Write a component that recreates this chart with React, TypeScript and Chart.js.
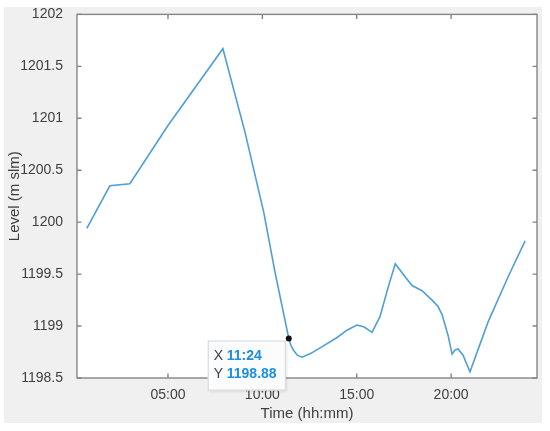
import React, { useEffect, useRef } from "react";
import { Chart, registerables } from "chart.js";

Chart.register(...registerables);

// Time in decimal hours, level in m slm
const hours = [
  0.7, 1.92, 2.98, 5.0, 7.91, 9.09, 10.08, 10.67, 11.4, 11.52, 11.68, 11.85,
  12.1, 12.6, 13.06, 13.96, 14.48, 15.01, 15.4, 15.81, 16.23, 16.66, 17.04,
  17.5, 17.93, 18.46, 18.99, 19.3, 19.52, 19.84, 20.05, 20.2, 20.37, 20.63,
  21.0, 21.96, 23.01, 23.92,
];
const levels = [
  1199.94, 1200.35, 1200.37, 1200.93, 1201.67, 1200.86, 1200.09, 1199.52,
  1198.88, 1198.81, 1198.76, 1198.72, 1198.7, 1198.74, 1198.79, 1198.89,
  1198.96, 1199.01, 1198.99, 1198.94, 1199.09, 1199.37, 1199.6, 1199.49,
  1199.39, 1199.34, 1199.25, 1199.19, 1199.11, 1198.91, 1198.73, 1198.77,
  1198.78, 1198.72, 1198.56, 1199.04, 1199.47, 1199.82,
];

const xTickValues = [5, 10, 15, 20];
const xTickLabels = ["05:00", "10:00", "15:00", "20:00"];
const yTickValues = [1198.5, 1199, 1199.5, 1200, 1200.5, 1201, 1201.5, 1202];
const yTickLabels = ["1198.5", "1199", "1199.5", "1200", "1200.5", "1201", "1201.5", "1202"];

const xMin = 0.18;
const xMax = 24.55;
const yMin = 1198.5;
const yMax = 1202;

const tipHour = 11.4;
const tipLevel = 1198.88;
const tipXText = "11:24";
const tipYText = "1198.88";

const FONT = "'Liberation Sans', Arial, Helvetica, sans-serif";
const TEXT = "#404040";
const AXIS = "#858585";

const decorPlugin = {
  id: "decor",
  beforeDraw(chart: any) {
    const { ctx, width, height, chartArea } = chart;
    ctx.save();
    ctx.fillStyle = "#ffffff";
    ctx.fillRect(0, 0, width, height);
    ctx.fillStyle = "#f0f0f0";
    ctx.fillRect(4, 7, 538, 416);
    ctx.fillStyle = "#ffffff";
    ctx.fillRect(
      chartArea.left,
      chartArea.top,
      chartArea.right - chartArea.left,
      chartArea.bottom - chartArea.top
    );
    ctx.restore();
  },
  afterDatasetsDraw(chart: any) {
    const { ctx, chartArea, scales } = chart;
    const { left, right, top, bottom } = chartArea;
    ctx.save();
    ctx.strokeStyle = AXIS;
    ctx.lineWidth = 1.4;
    ctx.strokeRect(left, top, right - left, bottom - top);
    const tl = 4.5;
    ctx.beginPath();
    for (const v of xTickValues) {
      const x = scales.x.getPixelForValue(v);
      ctx.moveTo(x, bottom);
      ctx.lineTo(x, bottom - tl);
      ctx.moveTo(x, top);
      ctx.lineTo(x, top + tl);
    }
    for (const v of yTickValues) {
      const y = scales.y.getPixelForValue(v);
      ctx.moveTo(left, y);
      ctx.lineTo(left + tl, y);
      ctx.moveTo(right, y);
      ctx.lineTo(right - tl, y);
    }
    ctx.stroke();
    ctx.restore();
  },
  afterDraw(chart: any) {
    const { ctx, scales } = chart;
    const px = scales.x.getPixelForValue(tipHour);
    const py = scales.y.getPixelForValue(tipLevel);
    ctx.save();
    // datatip box
    const bw = 78;
    const bh = 50;
    const bx = px - 81;
    const by = py + 2;
    ctx.shadowColor = "rgba(0,0,0,0.12)";
    ctx.shadowBlur = 3;
    ctx.shadowOffsetX = 1;
    ctx.shadowOffsetY = 1;
    ctx.fillStyle = "#fbfcfe";
    ctx.fillRect(bx, by, bw, bh);
    ctx.shadowColor = "transparent";
    ctx.strokeStyle = "#d6d6d6";
    ctx.lineWidth = 1;
    ctx.strokeRect(bx + 0.5, by + 0.5, bw - 1, bh - 1);
    ctx.textBaseline = "middle";
    ctx.textAlign = "left";
    ctx.font = `14px ${FONT}`;
    ctx.fillStyle = TEXT;
    ctx.fillText("X", bx + 6, by + 16);
    ctx.fillText("Y", bx + 6, by + 34);
    ctx.font = `bold 14px ${FONT}`;
    ctx.fillStyle = "#1c8fe3";
    ctx.fillText(tipXText, bx + 19, by + 16);
    ctx.fillText(tipYText, bx + 19, by + 34);
    // marker
    ctx.fillStyle = "#111111";
    ctx.beginPath();
    ctx.arc(px, py, 3, 0, Math.PI * 2);
    ctx.fill();
    ctx.restore();
  },
};

export default function App() {
  const ref = useRef<HTMLCanvasElement | null>(null);

  useEffect(() => {
    if (!ref.current) return;
    const data = hours.map((h, i) => ({ x: h, y: levels[i] }));
    const chart = new Chart(ref.current, {
      type: "line",
      data: {
        datasets: [
          {
            data,
            borderColor: "#4f9fd6",
            borderWidth: 1.6,
            pointRadius: 0,
            tension: 0,
            fill: false,
          },
        ],
      },
      options: {
        animation: false,
        responsive: false,
        events: [],
        layout: { padding: { left: 0, top: 14, right: 13, bottom: 0 } },
        plugins: {
          legend: { display: false },
          tooltip: { enabled: false },
        },
        scales: {
          x: {
            type: "linear",
            min: xMin,
            max: xMax,
            grid: { display: false },
            border: { display: false },
            afterBuildTicks: (scale: any) => {
              scale.ticks = xTickValues.map((v) => ({ value: v }));
            },
            afterFit: (scale: any) => {
              scale.height = 53;
            },
            ticks: {
              autoSkip: false,
              maxRotation: 0,
              padding: 1,
              color: TEXT,
              font: { family: FONT, size: 14 },
              callback: (v: any) => {
                const i = xTickValues.indexOf(Number(v));
                return i >= 0 ? xTickLabels[i] : "";
              },
            },
            title: {
              display: true,
              text: "Time (hh:mm)",
              color: TEXT,
              font: { family: FONT, size: 15 },
              padding: { top: 0, bottom: 8 },
            },
          },
          y: {
            type: "linear",
            min: yMin,
            max: yMax,
            grid: { display: false },
            border: { display: false },
            afterBuildTicks: (scale: any) => {
              scale.ticks = yTickValues.map((v) => ({ value: v }));
            },
            afterFit: (scale: any) => {
              scale.width = 77;
            },
            ticks: {
              autoSkip: false,
              padding: 6,
              color: TEXT,
              font: { family: FONT, size: 14 },
              callback: (v: any) => {
                const i = yTickValues.indexOf(Number(v));
                return i >= 0 ? yTickLabels[i] : "";
              },
            },
            title: {
              display: true,
              text: "Level (m slm)",
              color: TEXT,
              font: { family: FONT, size: 15 },
              padding: { top: 5.5, bottom: 0 },
            },
          },
        },
      },
      plugins: [decorPlugin],
    } as any);
    return () => chart.destroy();
  }, []);

  return (
    <div style={{ position: "fixed", left: 0, top: 0, width: 550, height: 431 }}>
      <canvas ref={ref} width={550} height={431} style={{ width: 550, height: 431, display: "block" }} />
    </div>
  );
}
